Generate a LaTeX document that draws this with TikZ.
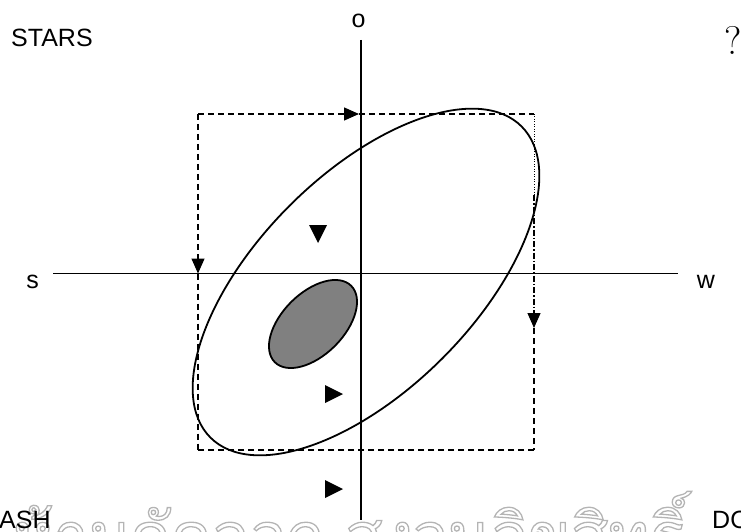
\documentclass[tikz,border=0pt]{standalone}
\usepackage{fontspec}
\newfontfamily\arialfont{Liberation Sans}
\newfontfamily\thaifont[Script=Thai]{Loma}
\usetikzlibrary{arrows.meta}
\definecolor{fillgray}{HTML}{808080}
\definecolor{outlinegray}{HTML}{B4B4B4}
\newcommand{\outlinetext}[1]{\special{pdf:literal direct 1 Tr 1.3 w}#1\special{pdf:literal direct 0 Tr 1 w}}
\tikzset{
  lbl/.style={inner sep=0pt, font=\arialfont\fontsize{25}{30}\selectfont},
  axisline/.style={line width=1.7pt},
  dashline/.style={line width=1.3pt, dash pattern=on 6pt off 4pt},
  dotline/.style={line width=1.0pt, dash pattern=on 1pt off 1.5pt},
  dashdotline/.style={line width=1.3pt, dash pattern=on 6pt off 2pt on 1.5pt off 2pt},
  tip/.style={-{Triangle[length=15pt,width=13pt]}},
  marker/.style={fill=black, draw=none},
}
\begin{document}
\begin{tikzpicture}[x=1pt,y=1pt]
\useasboundingbox (0,0) rectangle (741,531);
\clip (0,0) rectangle (741,531);
% coordinates (y measured upward: Y = 531 - image y)
\coordinate (hl) at (53,257.5);
\coordinate (hr) at (678,257.5);
\coordinate (vt) at (361,491);
\coordinate (vb) at (361,11);
\coordinate (tl) at (198,417);
\coordinate (tr) at (534,417);
\coordinate (bl) at (198,81);
\coordinate (br) at (534,81);
\coordinate (topmid) at (359,417);
\coordinate (leftmid) at (198,257.5);
\coordinate (rdot) at (534,336);
\coordinate (rarr) at (534,203);
\coordinate (bigc) at (366,249);
\coordinate (smallc) at (313,207);
% Thai watermark text (behind)
\node[inner sep=0pt, anchor=base west, text=outlinegray, font=\thaifont\fontsize{62}{66}\selectfont] (thai) at (13,-26) {\outlinetext{ห้ามคัดลอก สงวนลิขสิทธิ์}};
% dashed loop
\draw[dashline,tip] (tl) -- (topmid);
\draw[dashline] (topmid) -- (tr);
\draw[dotline] (tr) -- (rdot);
\draw[dashdotline,tip] (rdot) -- (rarr);
\draw[dashline] (rarr) -- (br);
\draw[dashline] (br) -- (bl);
\draw[dashline,tip] (tl) -- (leftmid);
\draw[dashline] (leftmid) -- (bl);
% axes
\draw[axisline] (hl) -- (hr);
\draw[axisline] (vt) -- (vb);
% ellipses
\draw[line width=1.8pt, rotate around={45:(bigc)}] (bigc) ellipse [x radius=220, y radius=108];
\draw[line width=1.8pt, fill=fillgray, rotate around={45:(smallc)}] (smallc) ellipse [x radius=54, y radius=31];
% triangle markers
\fill[marker] (309,306) -- (327,306) -- (318,288) -- cycle;
\fill[marker] (325,146) -- (325,128) -- (343,137) -- cycle;
\fill[marker] (325,51) -- (325,33) -- (343,42) -- cycle;
% labels
\node[lbl, anchor=base west] (stars) at (11,484) {STARS};
\node[lbl, anchor=base] (olbl) at (358.5,503) {o};
\node[lbl, anchor=base] (slbl) at (32.5,243) {s};
\node[lbl, anchor=base] (wlbl) at (706,243) {w};
\node[lbl, anchor=base west] (ash) at (-1,3) {ASH};
\node[lbl, anchor=base west] (do) at (712,3) {DO};
\node[inner sep=0pt, anchor=base west, font=\fontsize{40}{46}\selectfont] (qm) at (724,476) {?};
\end{tikzpicture}
\end{document}
